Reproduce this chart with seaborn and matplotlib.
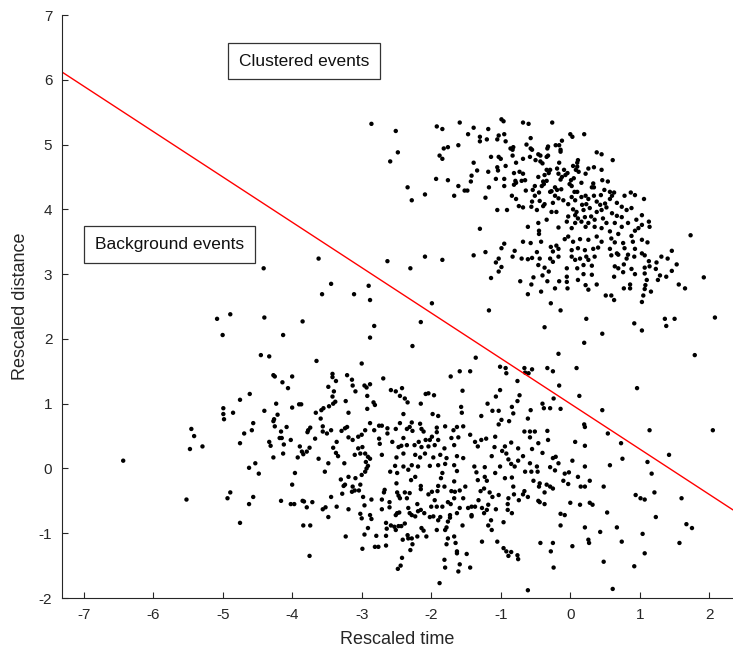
import matplotlib
matplotlib.use("Agg")
import matplotlib.pyplot as plt
import seaborn as sns
import pandas as pd

sns.set_theme(style="white")
plt.rcParams["font.family"] = ["Liberation Sans", "DejaVu Sans"]
plt.rcParams["axes.unicode_minus"] = False

# (rescaled time, rescaled distance), upper half of the panel
upper_pts = [
(-2.86,5.32),(-2.51,5.21),(-2.48,4.88),(-2.59,4.74),(-1.92,5.28),(-1.84,5.24),(-1.59,5.34),(-1.39,5.26),
(-1.47,5.16),(-1.18,5.24),(-1.30,5.12),(-1.30,5.05),(-1.20,5.08),(-1.05,5.08),(-1.03,5.14),(-0.95,5.16),
(-0.93,5.05),(-0.99,5.39),(-0.96,5.36),(-0.68,5.34),(-1.82,4.94),(-1.76,4.96),(-1.61,4.99),(-1.88,4.83),
(-1.84,4.78),(-0.86,4.94),(-0.82,4.96),(-0.83,4.92),(-1.14,4.81),(-1.03,4.81),(-1.00,4.78),(-0.83,4.83),
(-0.68,4.78),(-1.39,4.72),(-0.78,4.72),(-1.05,4.65),(-1.04,4.60),(-0.93,4.67),(-1.34,4.60),(-1.18,4.58),
(-1.42,4.52),(-0.81,4.56),(-0.73,4.58),(-0.68,4.55),(-0.79,4.44),(-0.70,4.44),(-1.07,4.47),(-0.95,4.47),
(-1.93,4.47),(-1.76,4.45),(-1.43,4.43),(-1.61,4.36),(-1.52,4.29),(-1.48,4.29),(-1.17,4.34),(-0.95,4.36),
(-0.81,4.38),(-0.78,4.41),(-2.34,4.34),(-2.09,4.23),(-2.28,4.14),(-1.67,4.21),(-1.22,4.18),(-0.84,4.21),
(-0.78,4.16),(-0.74,4.05),(-0.68,4.03),(-1.05,3.99),(-0.91,3.99),(-1.30,3.70),
(-1.39,3.29),(-1.22,3.34),(-0.99,3.40),(-0.95,3.47),(-0.80,3.36),(-0.68,3.50),(-0.83,3.27),(-0.70,3.24),
(-1.03,3.24),(-1.07,3.18),(-0.99,3.11),(-1.03,3.04),(-1.14,2.94),(-0.72,2.89),(-1.17,2.44),(-2.63,3.20),
(-2.30,3.09),(-2.09,3.27),(-1.84,3.22),(-2.90,2.82),(-3.11,2.69),(-2.88,2.60),(-1.99,2.55),(-2.15,2.26),
(-2.82,2.20),
(-0.60,5.32),(-0.26,5.34),(0.00,5.16),(0.03,5.12),(0.20,5.16),(-0.57,5.10),(-0.63,5.00),(-0.57,4.94),
(-0.55,4.92),(-0.32,4.97),(-0.33,4.94),(-0.21,4.99),(-0.16,4.99),(-0.12,5.06),(-0.14,4.92),(-0.14,4.89),
(-0.46,4.85),(-0.43,4.83),(-0.58,4.81),(-0.50,4.76),(-0.43,4.74),(-0.40,4.71),(-0.34,4.81),(-0.32,4.83),
(0.38,4.88),(0.45,4.85),(0.61,4.76),(-0.16,4.72),(0.11,4.76),(0.10,4.72),(0.04,4.67),(0.10,4.66),
(0.26,4.63),(0.34,4.65),(0.45,4.61),(-0.34,4.61),(-0.29,4.61),(-0.19,4.63),(-0.09,4.61),(-0.04,4.56),
(0.08,4.61),(0.12,4.58),(0.22,4.55),(-0.37,4.53),(-0.31,4.56),(-0.17,4.55),(-0.12,4.50),(-0.14,4.46),
(-0.46,4.50),(-0.65,4.45),(-0.39,4.43),(-0.34,4.44),(-0.07,4.53),(0.01,4.45),(0.05,4.48),(0.16,4.41),
(0.46,4.45),(0.54,4.43),(0.33,4.40),(0.31,4.34),(0.34,4.34),(-0.01,4.39),(0.02,4.36),(-0.51,4.36),
(-0.41,4.36),(-0.38,4.39),(-0.22,4.34),(-0.19,4.30),(-0.27,4.28),(-0.29,4.27),(-0.13,4.31),(-0.54,4.30),
(-0.64,4.29),(-0.45,4.26),(-0.51,4.21),(0.06,4.27),(0.10,4.27),(0.16,4.19),(0.22,4.21),(0.26,4.16),
(0.34,4.21),(0.44,4.22),(0.49,4.30),(0.57,4.27),(0.60,4.21),(0.63,4.26),(0.57,4.16),(0.78,4.21),
(0.87,4.26),(0.93,4.22),(1.06,4.16),(-0.22,4.21),(-0.17,4.17),(-0.10,4.14),(0.02,4.19),(0.07,4.14),
(-0.44,4.13),(-0.55,4.12),(-0.37,4.08),(-0.25,4.10),(-0.03,4.08),(0.17,4.07),(0.23,4.08),(0.38,4.12),
(0.43,4.07),(0.50,4.09),(0.52,4.03),(0.67,4.10),(0.74,4.04),(0.81,3.99),(0.88,4.02),(-0.56,4.04),
(-0.48,3.99),(-0.39,4.05),(-0.27,3.96),(-0.20,3.96),(0.04,4.00),(0.09,3.96),(0.19,3.99),(0.28,4.02),
(0.38,3.96),(0.45,3.99),(0.60,3.94),(0.67,3.90),(0.74,3.88),(1.03,3.91),(-0.03,3.89),(0.07,3.91),
(0.11,3.86),(0.21,3.88),(0.30,3.89),(0.35,3.84),(0.47,3.86),(0.95,3.84),(-0.34,3.84),(-0.46,3.79),
(-0.05,3.81),(0.07,3.79),(0.16,3.81),(0.26,3.79),(0.52,3.79),(0.64,3.79),(0.83,3.79),(1.13,3.81),
(1.03,3.76),(1.14,3.73),(-0.61,3.73),(-0.17,3.72),(0.02,3.71),
(-0.45,3.67),(-0.45,3.62),(0.22,3.73),(0.35,3.73),(0.45,3.71),(0.57,3.66),(0.69,3.62),(0.74,3.73),
(0.93,3.67),(0.98,3.71),(1.73,3.60),(-0.57,3.48),(-0.42,3.50),(-0.08,3.54),(-0.03,3.58),(0.04,3.50),
(0.14,3.54),(0.26,3.53),(0.38,3.58),(0.45,3.50),(0.59,3.55),(0.64,3.49),(0.76,3.48),(0.88,3.59),
(0.90,3.50),(1.03,3.53),(1.11,3.49),(-0.28,3.42),(-0.20,3.44),(-0.17,3.39),(-0.25,3.35),(0.02,3.37),
(0.11,3.40),(0.21,3.37),(0.33,3.39),(0.40,3.41),(0.57,3.39),(0.67,3.32),(0.78,3.40),(0.83,3.30),
(0.93,3.39),(1.03,3.32),(1.46,3.36),(-0.48,3.34),(-0.44,3.24),(-0.61,3.23),(-0.55,3.25),(-0.29,3.24),
(-0.17,3.27),(0.02,3.27),(0.07,3.22),(0.14,3.24),(0.23,3.27),(0.26,3.22),(0.35,3.27),(0.59,3.29),
(0.69,3.30),(0.81,3.24),(0.92,3.27),(1.07,3.29),(1.31,3.27),(1.40,3.24),(1.13,3.20),(1.24,3.18),
(1.53,3.15),(-0.46,3.14),(-0.37,3.10),(-0.25,3.19),(-0.05,3.09),(0.10,3.09),(0.19,3.14),(0.31,3.13),
(0.64,3.12),(0.69,3.09),(0.77,3.15),(0.88,3.08),(1.07,3.10),(1.14,3.12),(1.23,3.08),(1.46,3.05),
(-0.53,2.95),(-0.40,2.98),(-0.31,3.04),(-0.05,2.96),(0.19,3.00),(0.31,2.99),(0.63,2.96),(0.76,3.03),
(0.93,3.00),(1.07,3.01),(1.10,2.91),(1.29,2.98),(1.38,2.96),(1.26,2.91),(1.92,2.95),(-0.56,2.84),
(-0.33,2.89),(-0.16,2.89),(-0.05,2.88),(0.11,2.91),(0.22,2.83),(0.38,2.84),(0.86,2.84),(1.08,2.83),
(1.56,2.84),(-0.61,2.69),(-0.42,2.73),(-0.22,2.78),(-0.04,2.78),(0.26,2.76),(0.77,2.78),(0.86,2.78),
(1.07,2.77),(1.16,2.73),(1.65,2.78),(0.51,2.67),(0.59,2.67),(0.63,2.60),(1.05,2.67),(-0.28,2.55),
(1.03,2.57),(-0.14,2.44),(0.23,2.31),(0.92,2.24),(1.03,2.13),(1.36,2.31),(1.50,2.31),(1.38,2.20),
(2.08,2.33),(-0.37,2.18),(0.46,2.08),
(-3.62,3.24),(-3.44,2.85),(-3.57,2.69),(-3.85,2.27),
(-4.41,3.09),(-4.89,2.38),(-5.08,2.31),(-5.00,2.06),(-4.40,2.33),
]

# lower half of the panel
lower_pts = [
(-4.45,1.75),(-4.61,1.15),(-4.75,1.06),
(-4.99,0.93),(-4.99,0.84),(-4.98,0.76),(-4.85,0.86),(-4.40,0.89),(-4.56,0.70),(-4.58,0.59),(-4.69,0.54),
(-4.75,0.39),(-5.45,0.61),(-5.41,0.50),(-5.47,0.30),(-5.29,0.34),(-6.43,0.12),(-4.62,0.01),(-4.53,0.08),
(-4.48,-0.08),(-5.52,-0.48),(-4.89,-0.37),(-4.93,-0.46),(-4.56,-0.44),(-4.62,-0.55),(-4.75,-0.84),
(-4.13,2.06),(-2.88,2.02),(-4.33,1.73),(-3.65,1.66),(-3.00,1.62),(-4.27,1.44),(-4.25,1.42),(-4.00,1.42),
(-4.14,1.33),(-4.06,1.24),(-3.42,1.46),(-3.42,1.41),(-3.37,1.35),(-3.21,1.44),(-3.14,1.37),(-3.13,1.28),
(-3.09,1.19),(-2.96,1.28),(-2.93,1.25),(-2.88,1.30),(-2.69,1.39),(-3.48,1.26),(-3.40,1.19),(-3.42,1.11),
(-3.38,1.03),(-3.41,1.00),(-3.47,0.96),(-3.23,1.04),(-2.92,1.12),(-2.83,1.02),(-2.81,0.98),(-2.92,0.92),
(-2.58,1.21),(-2.51,1.19),(-2.42,1.24),(-2.45,1.12),(-2.38,1.08),(-2.34,1.02),(-4.23,1.00),(-4.00,0.94),
(-3.90,0.99),(-3.87,0.99),(-4.21,0.83),(-4.26,0.76),(-4.27,0.73),(-3.58,0.90),(-3.55,0.93),(-3.66,0.86),
(-3.59,0.77),(-3.19,0.86),(-2.88,0.70),(-2.40,0.84),(-2.45,0.70),(-4.25,0.65),(-4.08,0.64),(-4.16,0.57),
(-3.74,0.63),(-3.77,0.59),(-3.78,0.56),(-3.56,0.65),(-3.56,0.57),(-3.44,0.59),(-3.50,0.54),(-3.29,0.58),
(-3.24,0.62),(-3.21,0.64),(-2.95,0.59),(-2.82,0.59),(-2.75,0.66),(-2.71,0.66),(-2.63,0.62),(-2.63,0.54),
(-2.51,0.61),(-2.35,0.61),(-4.18,0.47),(-4.15,0.47),(-4.33,0.41),(-4.31,0.35),(-4.12,0.37),(-4.02,0.44),
(-3.67,0.46),(-3.36,0.41),(-3.19,0.48),(-3.13,0.44),(-3.05,0.49),(-3.00,0.52),(-2.75,0.46),(-2.74,0.38),
(-2.56,0.41),(-2.40,0.47),(-3.89,0.34),(-3.75,0.32),(-3.86,0.26),(-3.84,0.22),(-3.79,0.26),(-3.41,0.32),
(-3.37,0.24),(-3.34,0.19),(-3.05,0.31),(-2.99,0.33),(-3.10,0.21),(-3.02,0.23),(-2.95,0.23),(-2.91,0.18),
(-2.88,0.15),(-2.71,0.21),(-2.47,0.33),(-2.43,0.35),(-2.35,0.36),(-2.40,0.23),(-4.27,0.17),(-4.13,0.23),
(-3.92,0.17),(-3.62,0.15),(-3.48,0.08),(-3.25,0.08),(-2.94,0.10),(-2.91,0.04),(-2.50,0.17),(-2.52,0.04),
(-2.40,0.03),
(-3.96,-0.07),(-4.00,-0.25),(-3.53,-0.05),(-3.30,-0.17),(-3.19,-0.13),(-3.09,-0.15),(-3.00,-0.10),(-2.95,-0.05),
(-2.93,0.00),(-2.59,-0.05),(-2.49,-0.07),(-2.33,-0.02),(-3.26,-0.27),(-3.24,-0.25),(-3.28,-0.39),(-3.13,-0.28),
(-3.02,-0.25),(-3.14,-0.36),(-3.10,-0.34),(-3.04,-0.34),(-2.50,-0.23),(-2.67,-0.33),(-2.68,-0.37),(-2.49,-0.37),
(-2.47,-0.42),(-2.38,-0.37),(-2.35,-0.46),(-2.45,-0.46),(-4.16,-0.50),(-4.02,-0.55),(-3.97,-0.55),(-3.85,-0.50),
(-3.83,-0.51),(-3.79,-0.60),(-3.71,-0.52),(-3.44,-0.44),(-3.56,-0.63),(-3.52,-0.60),(-3.36,-0.59),(-3.19,-0.63),
(-3.48,-0.75),(-2.98,-0.44),(-2.86,-0.48),(-2.71,-0.48),(-2.96,-0.57),(-3.02,-0.70),(-3.00,-0.77),(-2.88,-0.72),
(-2.86,-0.78),(-2.71,-0.63),(-2.60,-0.52),(-2.60,-0.60),(-2.51,-0.72),(-2.49,-0.69),(-2.46,-0.68),(-2.65,-0.84),
(-2.58,-0.88),(-2.53,-0.90),(-2.47,-0.89),(-2.43,-0.89),(-2.38,-0.85),(-2.33,-0.61),(-3.84,-0.88),(-3.74,-0.88),
(-2.91,-0.92),(-2.64,-0.93),(-2.51,-0.95),(-2.96,-1.02),(-2.79,-1.04),(-2.65,-1.04),(-3.23,-1.05),(-2.34,-1.03),
(-2.33,-1.08),(-2.41,-1.10),(-2.99,-1.24),(-2.81,-1.21),(-2.76,-1.21),(-2.65,-1.19),(-3.75,-1.35),(-2.42,-1.38),
(-2.44,-1.50),(-2.48,-1.55),
(-2.27,1.89),(-1.36,1.71),(-1.59,1.50),(-1.44,1.50),(-1.72,1.42),(-1.01,1.57),(-0.93,1.55),(-0.92,1.47),
(-0.66,1.55),(-0.65,1.48),(-0.60,1.47),(-0.55,1.53),(-0.33,1.55),(-0.25,1.50),(-0.76,1.35),(-1.55,1.20),
(-1.01,1.21),(-1.07,1.11),(-0.73,1.13),(-0.76,1.04),(-2.08,1.15),(-2.04,1.16),(-1.96,1.13),(-2.15,1.00),
(-1.19,1.00),(-1.57,0.95),(-1.56,0.86),(-0.84,0.95),(-1.12,0.89),(-1.03,0.89),(-0.57,0.90),(-0.40,1.00),
(-0.38,0.93),(-0.29,0.93),(-0.24,1.08),(-1.98,0.84),(-1.90,0.81),(-1.28,0.81),(-0.82,0.85),(-0.61,0.77),
(-0.99,0.75),(-0.88,0.73),(-1.03,0.68),(-2.28,0.71),(-2.16,0.69),(-2.31,0.64),(-2.27,0.58),(-2.14,0.61),
(-2.11,0.57),(-1.92,0.63),(-1.92,0.56),(-1.80,0.65),(-1.68,0.59),(-1.63,0.64),(-1.54,0.65),(-1.61,0.48),
(-1.71,0.47),(-1.44,0.52),(-1.37,0.41),(-1.28,0.44),(-1.21,0.46),(-1.08,0.49),(-0.85,0.40),(-0.66,0.57),
(-0.58,0.57),(-0.58,0.48),(-0.51,0.57),(-0.33,0.58),(-0.32,0.44),(-1.99,0.49),(-2.08,0.44),(-2.02,0.44),
(-2.18,0.41),(-2.24,0.36),(-1.90,0.44),(-2.14,0.33),(-2.04,0.34),(-1.95,0.36),(-1.81,0.31),(-1.67,0.36),
(-1.33,0.34),(-1.09,0.33),(-0.94,0.34),(-0.98,0.27),(-0.75,0.31),(-0.55,0.30),(-0.46,0.39),(-0.40,0.24),
(-2.23,0.21),(-2.09,0.23),(-2.16,0.17),(-1.97,0.17),(-1.87,0.21),(-1.78,0.16),(-1.63,0.19),(-1.54,0.16),
(-1.13,0.19),(-0.92,0.23),(-0.89,0.14),(-0.68,0.19),(-0.75,0.12),(-0.25,0.16),(-2.28,0.05),(-2.19,0.03),
(-2.02,0.04),(-1.90,0.05),(-1.80,0.07),(-1.67,0.05),(-1.38,0.03),(-1.23,0.02),(-1.01,0.03),(-0.85,0.07),
(-0.80,0.03),(-0.58,0.08),(-0.48,0.03),(-0.29,0.02),
(-1.63,-0.04),(-1.08,-0.07),(-0.65,-0.05),(-0.56,-0.05),(-0.47,-0.05),(-2.29,-0.18),(-2.23,-0.13),(-2.15,-0.27),
(-2.15,-0.32),(-1.84,-0.07),(-1.86,-0.15),(-1.90,-0.27),(-1.91,-0.35),(-1.81,-0.28),(-1.67,-0.20),(-1.51,-0.28),
(-1.59,-0.34),(-1.66,-0.36),(-1.71,-0.35),(-1.99,-0.36),(-2.04,-0.40),(-2.31,-0.38),(-1.35,-0.06),(-1.33,-0.18),
(-1.23,-0.13),(-1.20,-0.19),(-0.94,-0.15),(-0.84,-0.14),(-1.29,-0.35),(-1.24,-0.31),(-1.16,-0.37),(-1.12,-0.44),
(-1.03,-0.41),(-0.82,-0.28),(-0.81,-0.40),(-0.89,-0.46),(-0.66,-0.35),(-0.68,-0.40),(-0.61,-0.44),(-0.74,-0.49),
(-0.53,-0.19),(-0.44,-0.23),(-0.45,-0.28),(-0.34,-0.25),(-0.29,-0.28),(-0.25,-0.31),(-0.37,-0.37),(-2.20,-0.55),
(-1.95,-0.49),(-2.00,-0.59),(-1.92,-0.59),(-1.84,-0.59),(-1.76,-0.52),(-1.72,-0.55),(-1.67,-0.46),(-1.59,-0.61),
(-1.54,-0.46),(-1.47,-0.61),(-1.42,-0.59),(-1.37,-0.59),(-1.32,-0.49),(-1.27,-0.61),(-1.20,-0.64),(-1.18,-0.56),
(-1.07,-0.63),(-0.90,-0.55),(-0.90,-0.64),(-0.84,-0.69),(-0.46,-0.50),(-0.44,-0.52),(-0.37,-0.55),(-2.31,-0.69),
(-2.28,-0.72),(-2.19,-0.66),(-2.15,-0.64),(-2.10,-0.69),(-2.23,-0.74),(-2.02,-0.75),(-1.97,-0.74),(-1.90,-0.80),
(-1.87,-0.75),(-1.73,-0.72),(-1.73,-0.76),(-1.63,-0.69),(-1.42,-0.72),(-1.42,-0.74),(-1.24,-0.69),(-1.14,-0.80),
(-0.96,-0.83),(-1.76,-0.82),(-2.14,-0.92),(-2.11,-0.96),(-1.92,-0.95),(-1.80,-0.95),(-1.78,-0.91),(-1.55,-0.88),
(-1.18,-0.88),(-1.13,-0.95),(-2.28,-1.08),(-2.20,-1.05),(-2.07,-1.05),(-1.76,-1.08),(-1.67,-1.05),(-1.27,-1.13),
(-1.05,-1.13),(-2.27,-1.17),(-1.78,-1.17),(-1.65,-1.15),(-2.30,-1.26),(-1.63,-1.28),(-1.63,-1.31),(-1.49,-1.32),
(-0.96,-1.23),(-0.92,-1.28),(-0.89,-1.35),(-0.85,-1.29),(-0.76,-1.34),(-0.75,-1.40),(-0.43,-1.15),(-0.25,-1.15),
(-0.28,-1.28),(-0.24,-1.53),(-1.81,-1.41),(-1.80,-1.53),(-1.59,-1.48),(-1.44,-1.53),(-1.61,-1.59),(-1.88,-1.77),
(-0.61,-1.88),
(0.20,1.94),(-0.17,1.77),(1.79,1.75),(0.09,1.55),(-0.16,1.28),(0.96,1.24),(0.13,1.12),(-0.14,0.92),
(0.46,0.90),(0.20,0.68),(0.21,0.64),(0.54,0.54),(1.14,0.59),(2.05,0.59),(0.07,0.41),(0.21,0.35),
(0.73,0.39),(-0.21,0.18),(-0.17,0.08),(0.03,0.12),(0.75,0.15),(1.42,0.21),(0.57,0.05),(0.21,0.03),
(1.11,0.10),(1.17,-0.08),(-0.22,-0.03),(-0.08,-0.08),(-0.02,-0.06),(0.11,-0.13),(-0.10,-0.19),(-0.03,-0.24),
(0.15,-0.28),(0.21,-0.28),(0.28,-0.19),(0.48,-0.28),(1.21,-0.37),(0.94,-0.41),(1.01,-0.46),(1.07,-0.48),
(1.60,-0.46),(0.00,-0.53),(0.14,-0.56),(0.28,-0.53),(0.32,-0.56),(-0.14,-0.70),(-0.08,-0.72),(0.53,-0.68),
(1.23,-0.75),(-0.14,-0.88),(0.21,-0.91),(0.43,-0.98),(0.67,-0.91),(1.67,-0.86),(1.75,-0.92),(1.04,-1.01),
(0.26,-1.10),(0.27,-1.15),(0.74,-1.13),(1.57,-1.15),(0.03,-1.20),(1.07,-1.31),(0.48,-1.44),(0.92,-1.51),
(0.61,-1.86),
]

# separating line
line_t = [-7.31, 2.34]
line_d = [6.12, -0.64]

x_ticks = [-7, -6, -5, -4, -3, -2, -1, 0, 1, 2]
y_ticks = [-2, -1, 0, 1, 2, 3, 4, 5, 6, 7]
x_label = "Rescaled time"
y_label = "Rescaled distance"
label_clustered = "Clustered events"
label_background = "Background events"

df = pd.DataFrame(upper_pts + lower_pts, columns=["t", "d"])

fig = plt.figure(figsize=(7.33, 6.56), dpi=100)
ax = fig.add_axes([0.0846, 0.0884, 0.9154, 0.8887])

sns.scatterplot(data=df, x="t", y="d", s=10, color="black", edgecolor="none",
                linewidth=0, ax=ax, legend=False)
sns.lineplot(x=line_t, y=line_d, color="red", linewidth=1.0, ax=ax)

ax.set_xlim(-7.31, 2.34)
ax.set_ylim(-2, 7)
ax.set_xticks(x_ticks)
ax.set_yticks(y_ticks)
ax.set_xlabel(x_label, fontsize=13, color="#262626", labelpad=7)
ax.set_ylabel(y_label, fontsize=13, color="#262626", labelpad=7)
ax.tick_params(direction="in", length=4, width=0.8, colors="#262626",
               labelsize=11, bottom=True, left=True, top=False, right=False)
ax.tick_params(axis="x", pad=7)
ax.tick_params(axis="y", pad=7)
for side in ["top", "right"]:
    ax.spines[side].set_visible(False)
for side in ["left", "bottom"]:
    ax.spines[side].set_color("#262626")
    ax.spines[side].set_linewidth(0.8)
ax.grid(False)

box = dict(boxstyle="square,pad=0.62", fc="white", ec="#333333", lw=0.9)
ax.text(-3.83, 6.29, label_clustered, ha="center", va="center",
        fontsize=12.5, color="#111111", bbox=box)
ax.text(-5.76, 3.46, label_background, ha="center", va="center",
        fontsize=12.5, color="#111111", bbox=box)

fig.savefig("out.png", dpi=100)
